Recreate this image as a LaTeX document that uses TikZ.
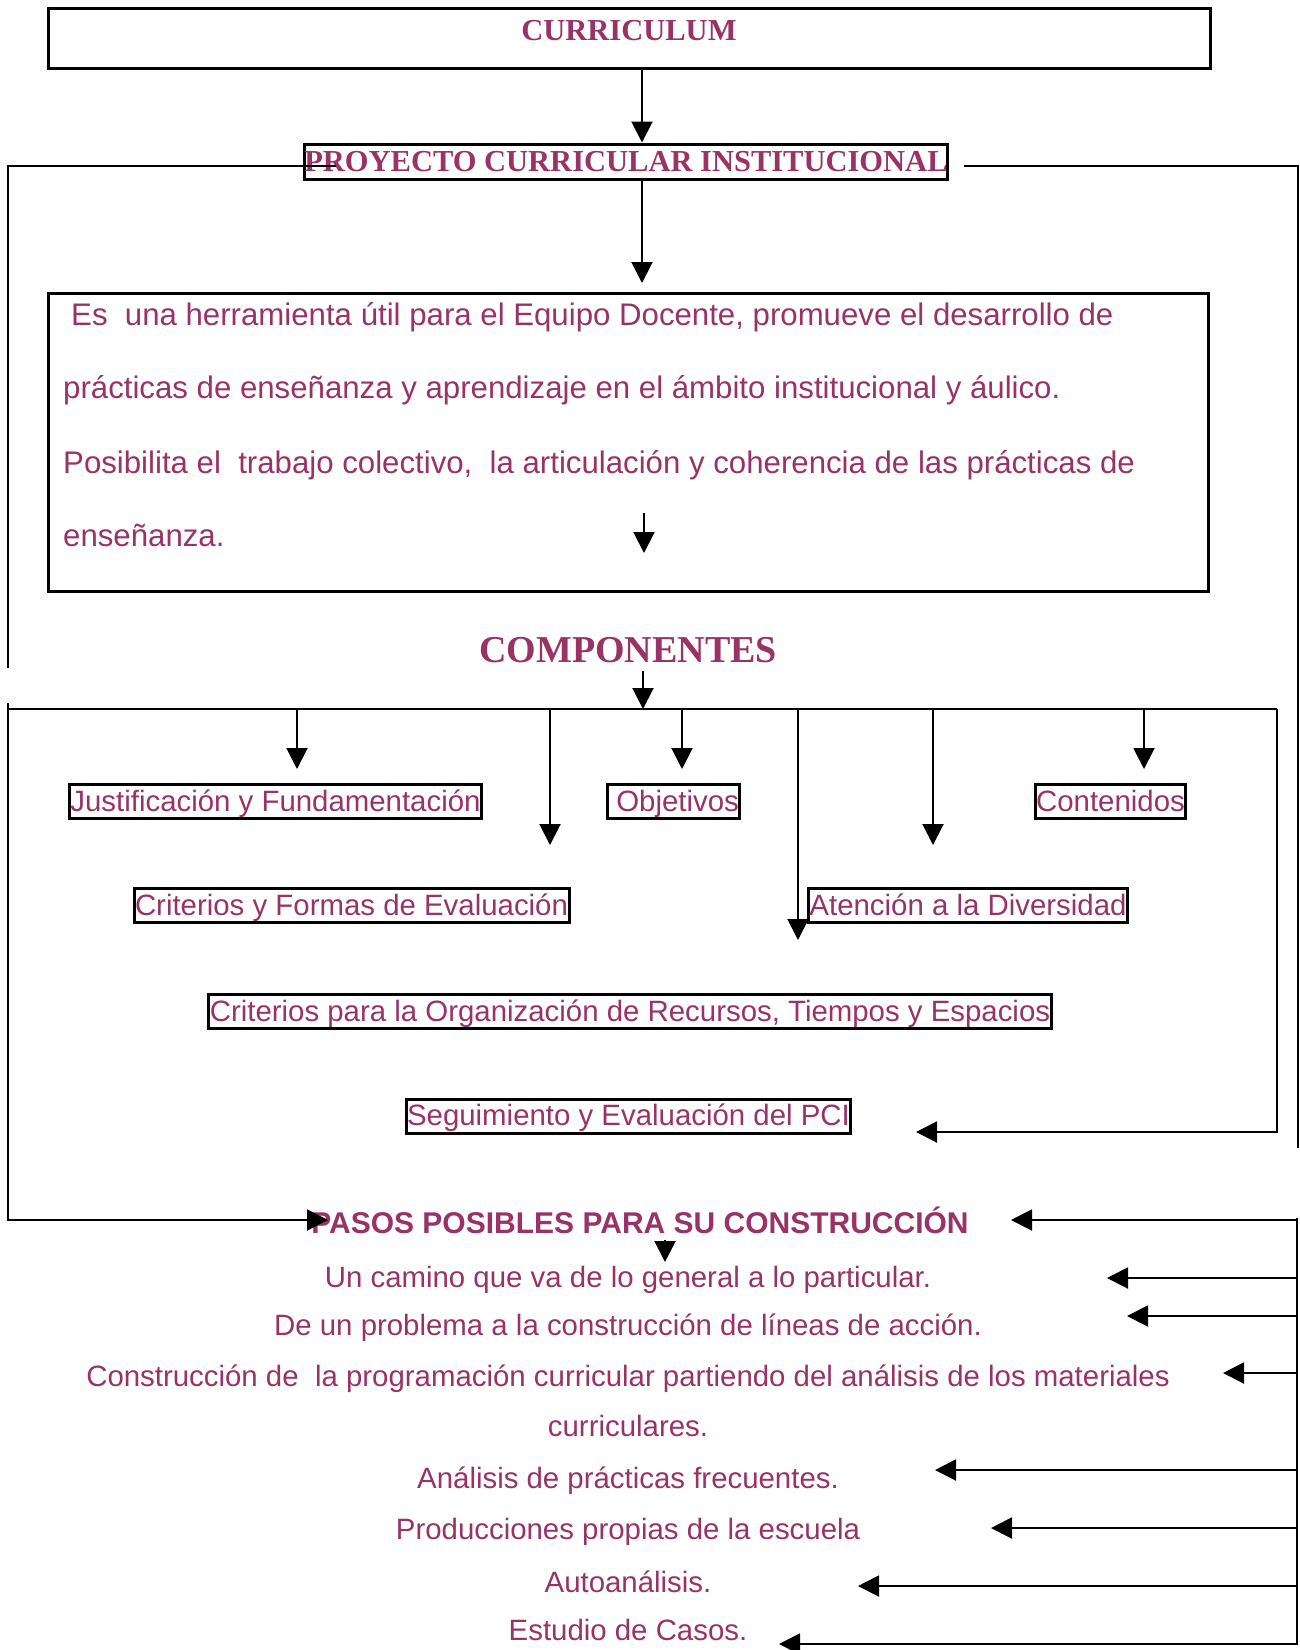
\documentclass[tikz,border=0pt]{standalone}
\usepackage{fontspec}
\setmainfont{Liberation Sans}
\newfontfamily\titlefont{Liberation Serif}
\usetikzlibrary{arrows.meta}
\definecolor{plum}{RGB}{153,51,102}

\begin{document}
\begin{tikzpicture}
	[
	x=1pt, y=-1pt,
	txt/.style={text=plum, font=\fontsize{29.4}{35}\selectfont, inner sep=0pt},
	desctxt/.style={txt, font=\fontsize{31.2}{37}\selectfont, anchor=base west},
	titletxt/.style={text=plum, font=\titlefont\bfseries\fontsize{30.5}{36}\selectfont, inner sep=0pt},
	frame/.style={draw, line width=3pt, inner sep=0pt},
	item/.style={txt, draw, line width=3pt, inner xsep=1pt, inner ysep=1.5pt, text height=25pt, text depth=6pt},
	wire/.style={line width=2pt},
	conn/.style={wire, -{Triangle[width=21pt,length=21pt]}},
	]
		\useasboundingbox (0,0) rectangle (1300,1650);
		
		% curriculum
		\node[frame, minimum width=1162pt, minimum height=60pt] (cur) at (629,38) {};
		\node[titletxt, anchor=base] (curt) at (629,40) {CURRICULUM};
		
		% proyecto
		\node[frame, titletxt, draw=black, minimum width=640pt, minimum height=35pt] (pci) at (626,161.5) {PROYECTO CURRICULAR INSTITUCIONAL};
		
		% description
		\node[frame, minimum width=1160pt, minimum height=298pt] (desc) at (628,442) {};
		\node[desctxt] (l1) at (71,325) {Es\ \ una herramienta útil para el Equipo Docente, promueve el desarrollo de};
		\node[desctxt] (l2) at (63,398) {prácticas de enseñanza y aprendizaje en el ámbito institucional y áulico.};
		\node[desctxt] (l3) at (63,473) {Posibilita el\ \ trabajo colectivo,\ \ la articulación y coherencia de las prácticas de};
		\node[desctxt] (l4) at (63,546) {enseñanza.};
		
		% components
		\node[titletxt, font=\titlefont\bfseries\fontsize{38}{44}\selectfont, anchor=base] (comp) at (628,662) {COMPONENTES};
		\node[item] (just) at (275.5,801.5) {Justificación y Fundamentación};
		\node[item] (obj)  at (673.5,801.5) {\ Objetivos};
		\node[item] (cont) at (1110.5,801.5) {Contenidos};
		\node[item] (eval) at (351.5,905.5) {Criterios y Formas de Evaluación};
		\node[item] (div)  at (968,905.5) {Atención a la Diversidad};
		\node[item] (org)  at (630,1011.5) {Criterios para la Organización de Recursos, Tiempos y Espacios};
		\node[item] (seg)  at (628.5,1116) {Seguimiento y Evaluación del PCI};
		
		% steps
		\node[txt, font=\bfseries\fontsize{30}{36}\selectfont, anchor=base] (pasos) at (640,1233) {PASOS POSIBLES PARA SU CONSTRUCCIÓN};
		\node[txt, anchor=base] (s1) at (628,1287) {Un camino que va de lo general a lo particular.};
		\node[txt, anchor=base] (s2) at (628,1335) {De un problema a la construcción de líneas de acción.};
		\node[txt, anchor=base] (s3) at (628,1386) {Construcción de\ \ la programación curricular partiendo del análisis de los materiales};
		\node[txt, anchor=base] (s4) at (628,1436) {curriculares.};
		\node[txt, anchor=base] (s5) at (628,1488) {Análisis de prácticas frecuentes.};
		\node[txt, anchor=base] (s6) at (628,1539) {Producciones propias de la escuela};
		\node[txt, anchor=base] (s7) at (628,1592) {Autoanálisis.};
		\node[txt, anchor=base] (s8) at (628,1640) {Estudio de Casos.};
		
		% spine
		\coordinate (spine) at (642,0);
		\coordinate (t1) at (642,283);
		\coordinate (t2) at (644,513);
		\coordinate (t3) at (644,553);
		\coordinate (t4) at (643,671);
		\coordinate (bar) at (8,709);
		\coordinate (barr) at (1277,709);
		\draw[conn] (cur.south -| spine) -- (pci.north -| spine);
		\draw[conn] (pci.south -| spine) -- (t1);
		\draw[conn] (t2) -- (t3);
		\draw[conn] (t4) -- (t4 |- bar);
		
		% bar and drops
		\draw[wire] (bar) -- (barr);
		\foreach \n/\x/\y in {d1/297/769,d2/550/845,d3/682/769,d4/798/940,d5/933/845,d6/1144/769}
			\coordinate (\n) at (\x,\y);
		\foreach \n in {d1,d2,d3,d4,d5,d6} \draw[conn] (\n |- bar) -- (\n);
		\coordinate (segtip) at (916,1132);
		\draw[conn] (barr) -- (barr |- segtip) -- (segtip);
		
		% left loop
		\coordinate (lt) at (336,166);
		\coordinate (lgap) at (8,668);
		\coordinate (lgo) at (8,703);
		\coordinate (pastip) at (328,1220);
		\draw[wire] (lt) -- (lt -| lgap) -- (lgap);
		\draw[conn] (lgo) -- (lgo |- pastip) -- (pastip);
		
		% right loop
		\coordinate (rt) at (964,166);
		\coordinate (rr) at (1298,166);
		\coordinate (rb) at (1298,1148);
		\draw[wire] (rt) -- (rr) -- (rb);
		
		% small arrow under steps title
		\coordinate (u1) at (665,1240);
		\coordinate (u2) at (665,1262);
		\draw[conn] (u1) -- (u2);
		
		% right rail to steps
		\coordinate (rail) at (1297,1218);
		\coordinate (railb) at (1297,1645);
		\draw[wire] (rail) -- (railb);
		\foreach \n/\x/\y in {p1/1011/1220,p2/1107/1278,p3/1127/1316,p4/1223/1373,p5/935/1470,p6/991/1528,p7/858/1586,p8/779/1644}
			\coordinate (\n) at (\x,\y);
		\foreach \n in {p1,p2,p3,p4,p5,p6,p7,p8} \draw[conn] (\n -| rail) -- (\n);
		
	\end{tikzpicture}
\end{document}
